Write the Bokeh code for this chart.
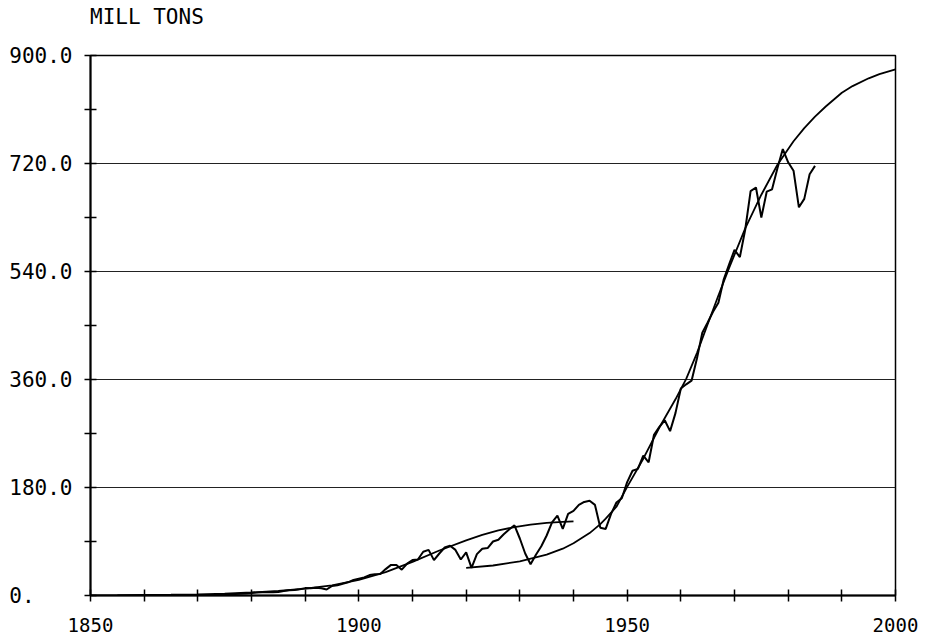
from bokeh.plotting import figure
from bokeh.models import Range1d, FixedTicker, Div
from bokeh.layouts import column
from bokeh.embed import file_html
from bokeh.resources import INLINE

# Annual production (million tons)
years = list(range(1870, 1986))
production = [
    0.5, 0.6, 0.8, 1.0, 1.2, 1.9, 2.3, 2.6, 3.0, 3.4,          # 1870-1879
    4.2, 5.0, 5.6, 5.7, 5.6, 6.0, 7.5, 8.7, 9.0, 10.5,         # 1880-1889
    12.3, 12.0, 12.9, 12.0, 10.0, 16.0, 17.0, 19.5, 22.0, 26.0,  # 1890-1899
    28.0, 30.0, 34.0, 35.5, 36.0, 44.0, 51.0, 51.0, 43.0, 53.0,  # 1900-1909
    59.0, 60.0, 73.0, 76.0, 59.0, 70.0, 80.0, 83.0, 76.0, 60.0,  # 1910-1919
    72.0, 46.0, 69.0, 78.0, 79.0, 90.0, 93.0, 102.0, 110.0, 117.0,  # 1920-1929
    95.0, 70.0, 52.0, 68.0, 82.0, 100.0, 122.0, 133.0, 111.0, 136.0,  # 1930-1939
    141.0, 151.0, 156.0, 158.0, 151.0, 113.0, 111.0, 136.0, 155.0, 162.0,  # 1940-1949
    189.0, 208.0, 211.0, 233.0, 222.0, 268.0, 281.0, 292.0, 274.0, 304.0,  # 1950-1959
    345.0, 352.0, 358.0, 395.0, 438.0, 455.0, 473.0, 488.0, 527.0, 552.0,  # 1960-1969
    576.0, 564.0, 610.0, 674.0, 680.0, 630.0, 673.0, 677.0, 712.0, 744.0,  # 1970-1979
    722.0, 708.0, 647.0, 661.0, 702.0, 716.0,                      # 1980-1985
]

# First fitted curve
fit1_years = [1850, 1855, 1860, 1865, 1870, 1875, 1880, 1885, 1890, 1895,
              1900, 1905, 1910, 1915, 1920, 1923, 1926, 1929, 1932, 1935,
              1938, 1940]
fit1_vals = [0.2, 0.4, 0.8, 1.3, 2.0, 3.2, 5.0, 7.5, 11.5, 17.0,
             26.0, 39.0, 56.0, 75.0, 92.0, 101.0, 108.5, 114.0, 118.0, 121.0,
             122.8, 123.5]

# Second fitted curve
fit2_years = [1920, 1925, 1930, 1935, 1938, 1940, 1943, 1945, 1946, 1948,
              1950, 1953, 1956, 1959, 1961, 1963, 1965, 1967, 1969, 1972,
              1975, 1978, 1981, 1983, 1985, 1987, 1990, 1992, 1995, 1997, 2000]
fit2_vals = [46.0, 50.0, 57.0, 68.0, 78.0, 87.0, 104.0, 119.0, 128.0, 148.0,
             181.0, 228.0, 280.0, 327.0, 361.0, 404.0, 452.0, 500.0, 546.0, 612.0,
             668.0, 718.0, 757.0, 779.0, 798.0, 815.0, 838.0, 849.0, 862.0, 869.0, 877.0]

NB = "\u00a0"
y_major = [0, 180, 360, 540, 720, 900]
y_labels = ["0." + NB * 3, "180.0", "360.0", "540.0", "720.0", "900.0"]
y_minor = [90, 270, 450, 630, 810]
y_grid = [180, 360, 540, 720]
x_major = [1850, 1900, 1950, 2000]
x_labels = ["1850", "1900", "1950", "2000"]
x_minor = [1860, 1870, 1880, 1890, 1910, 1920, 1930, 1940,
           1960, 1970, 1980, 1990]
unit_label = "MILL TONS"

FONT = "DejaVu Sans Mono"

header = Div(text=unit_label, width=300, height=34, margin=(0, 0, 0, 90),
             styles={"font-family": FONT, "font-size": "21px",
                     "line-height": "34px", "color": "black"})

p = figure(frame_width=805, frame_height=540, min_border_left=90,
           min_border_right=34, min_border_top=21, min_border_bottom=44,
           x_range=Range1d(1850, 2000), y_range=Range1d(0, 900),
           output_backend="svg", toolbar_location=None,
           background_fill_color="white", border_fill_color="white")

p.outline_line_color = "black"
p.outline_line_width = 1.5

p.xgrid.visible = False
p.ygrid.ticker = FixedTicker(ticks=y_grid)
p.ygrid.grid_line_color = "#222222"
p.ygrid.grid_line_width = 1

xa = p.xaxis[0]
xa.ticker = FixedTicker(ticks=x_major, minor_ticks=x_minor)
xa.major_label_overrides = {t: l for t, l in zip(x_major, x_labels)}
ya = p.yaxis[0]
ya.ticker = FixedTicker(ticks=y_major, minor_ticks=y_minor)
ya.major_label_overrides = {t: l for t, l in zip(y_major, y_labels)}

for ax in (xa, ya):
    ax.axis_line_color = "black"
    ax.axis_line_width = 2
    ax.major_tick_line_color = "black"
    ax.minor_tick_line_color = "black"
    ax.major_tick_line_width = 1.5
    ax.minor_tick_line_width = 1.5
    ax.major_tick_in = 6
    ax.major_tick_out = 6
    ax.minor_tick_in = 6
    ax.minor_tick_out = 6
    ax.major_label_text_font = FONT
    ax.major_label_text_color = "black"
xa.major_label_text_font_size = "19px"
ya.major_label_text_font_size = "21px"
xa.major_label_standoff = 16
ya.major_label_standoff = 12

p.line(fit1_years, fit1_vals, line_color="black", line_width=1.8)
p.line(fit2_years, fit2_vals, line_color="black", line_width=1.8)
p.line(years, production, line_color="black", line_width=2)

layout = column(header, p, spacing=0)

open("out.html", "w").write(file_html(layout, INLINE))
